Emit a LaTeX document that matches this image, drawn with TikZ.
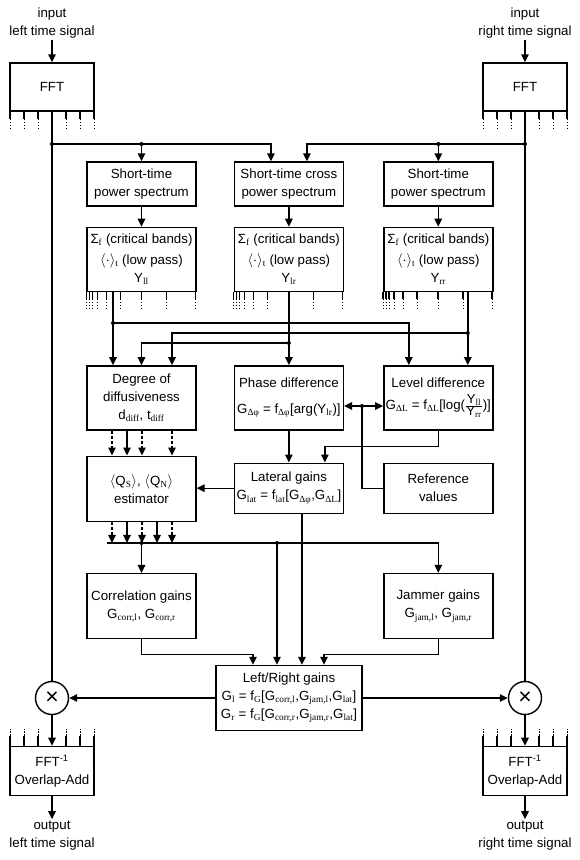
\documentclass[tikz,border=0pt]{standalone}
\usepackage{fontspec}
\setmainfont{Liberation Sans}
\newfontfamily\subfont{Liberation Serif}
\usetikzlibrary{positioning,arrows.meta}
\newcommand\sbs[1]{\textsubscript{\subfont #1}}
\newcommand\fracY[2]{$\frac{\hbox{\fontsize{13}{13}\selectfont Y\sbs{#1}}}{\hbox{\fontsize{13}{13}\selectfont Y\sbs{#2}}}$}
\begin{document}
\begin{tikzpicture}[x=1pt, y=-1pt, line width=1.4pt, font=\fontsize{13.3}{18}\selectfont,
  box/.style={draw, minimum width=109pt, align=center, inner sep=0pt},
  fftbox/.style={draw, minimum width=84pt, minimum height=48pt, align=center, inner sep=0pt},
  label/.style={align=center, inner sep=1pt},
  arr/.style={-{Triangle[length=8pt,width=7.5pt]}},
  stub/.style={dash pattern=on 1.3pt off 1.7pt, line width=1pt},
  chan/.style={dash pattern=on 3pt off 2pt, line width=1.2pt}]
\useasboundingbox (0,0) rectangle (580,860);

% analysis
\node[fftbox] (fftL) at (52,87) {FFT};
\node[fftbox] (fftR) at (525,87) {FFT};
\node[label] (inL) [above=22pt of fftL] {input\\left time signal};
\node[label] (inR) [above=22pt of fftR] {input\\right time signal};

\node[box, minimum height=44pt] (psL) at (141.5,184) {Short-time\\power spectrum};
\node[box, minimum height=44pt] (cps) [right=37pt of psL] {Short-time cross\\power spectrum};
\node[box, minimum height=44pt] (psR) [right=39pt of cps] {Short-time\\power spectrum};

\node[box, minimum height=64pt] (sumL) [below=20pt of psL] {Σ\sbs{f} (critical bands)\\[3pt]$\langle\cdot\rangle$\sbs{t} (low pass)\\Y\sbs{ll}};
\node[box, minimum height=64pt] (sumC) [below=20pt of cps] {Σ\sbs{f} (critical bands)\\[3pt]$\langle\cdot\rangle$\sbs{t} (low pass)\\Y\sbs{lr}};
\node[box, minimum height=64pt] (sumR) [below=20pt of psR] {Σ\sbs{f} (critical bands)\\[3pt]$\langle\cdot\rangle$\sbs{t} (low pass)\\Y\sbs{rr}};

% binaural parameters
\node[box, minimum height=64pt] (diff) [below=73pt of sumL] {Degree of\\diffusiveness\\d\sbs{diff}, t\sbs{diff}};
\node[box, minimum height=64pt] (phase) [below=73pt of sumC] {Phase difference\\[8pt]G\sbs{Δφ} = f\sbs{Δφ}[arg(Y\sbs{lr})]};
\node[box, minimum height=64pt] (level) [below=73pt of sumR] {Level difference\\[4pt]G\sbs{ΔL} = f\sbs{ΔL}[log(\fracY{ll}{rr})]};

\node[box, minimum height=65pt] (est) [below=25pt of diff] {$\langle$Q\sbs{S}$\rangle$, $\langle$Q\sbs{N}$\rangle$\\estimator};
\node[box, minimum height=50pt] (lat) [below=32pt of phase] {Lateral gains\\G\sbs{lat} = f\sbs{lat}[G\sbs{Δφ},G\sbs{ΔL}]};
\node[box, minimum height=50pt] (ref) [below=32pt of level] {Reference\\values};

\node[box, minimum height=65pt] (corr) [below=51pt of est] {Correlation gains\\G\sbs{corr,l}, G\sbs{corr,r}};
\node[box, minimum height=65pt] (jam) [below=59pt of ref] {Jammer gains\\G\sbs{jam,l}, G\sbs{jam,r}};

\node[box, minimum width=146pt, minimum height=65pt] (lr) at (289,698) {Left/Right gains\\G\sbs{l} = f\sbs{G}[G\sbs{corr,l},G\sbs{jam,l},G\sbs{lat}]\\G\sbs{r} = f\sbs{G}[G\sbs{corr,r},G\sbs{jam,r},G\sbs{lat}]};

% synthesis
\node[draw, circle, minimum size=33pt, inner sep=0pt, font=\fontsize{23}{23}\selectfont] (mulL) at (fftL |- lr) {×};
\node[draw, circle, minimum size=33pt, inner sep=0pt, font=\fontsize{23}{23}\selectfont] (mulR) at (fftR |- lr) {×};
\node[fftbox, minimum height=49pt] (ifftL) [below=30.5pt of mulL] {FFT\textsuperscript{-1}\\Overlap-Add};
\node[fftbox, minimum height=49pt] (ifftR) [below=30.5pt of mulR] {FFT\textsuperscript{-1}\\Overlap-Add};
\node[label] (outL) [below=23pt of ifftL] {output\\left time signal};
\node[label] (outR) [below=23pt of ifftR] {output\\right time signal};

% frequency channels
\foreach \f in {fftL,fftR}{
  \foreach \dx in {-42,-28,-14,14,28,42}{
    \draw ([xshift=\dx pt]\f.south) -- ++(0,7);
    \draw[stub] ([xshift=\dx pt, yshift=-7pt]\f.south) -- ++(0,10);
  }
}
\foreach \f in {ifftL,ifftR}{
  \foreach \dx in {-42,-28,-14,14,28,42}{
    \draw ([xshift=\dx pt]\f.north) -- ++(0,-10);
    \draw[stub] ([xshift=\dx pt, yshift=10pt]\f.north) -- ++(0,-7);
  }
}
\foreach \s in {sumL,sumC,sumR}{
  \foreach \dx in {0,3,6,11,20,34,55,80,109}{
    \draw ([xshift=\dx pt]\s.south west) -- ++(0,7);
    \draw[stub] ([xshift=\dx pt, yshift=-7pt]\s.south west) -- ++(0,11);
  }
}

% signal paths
\draw[arr] (inL) -- (fftL);
\draw[arr] (inR) -- (fftR);
\draw (fftL) -- (mulL);
\draw (fftR) -- (mulR);
\coordinate (topL) at (52,144);
\coordinate (topR) at (525,144);
\fill (topL) circle (2pt) (topR) circle (2pt);
\fill (topL -| psL.north) circle (2pt) (topR -| psR.north) circle (2pt);
\draw[arr] (topL) -| ([xshift=-18pt]cps.north);
\draw[arr] (topR) -| ([xshift=18pt]cps.north);
\draw[arr] (topL -| psL.north) -- (psL.north);
\draw[arr] (topR -| psR.north) -- (psR.north);
\draw[arr] (psL) -- (sumL);
\draw[arr] (cps) -- (sumC);
\draw[arr] (psR) -- (sumR);

\coordinate (llout) at ([xshift=-28.5pt]sumL.south);
\coordinate (rrout) at ([xshift=29.5pt]sumR.south);
\coordinate (lldot) at (llout |- 0,323);
\coordinate (rrdot) at (rrout |- 0,333);
\coordinate (lrdot) at (sumC.south |- 0,343);
\draw[arr] (llout) -- (llout |- diff.north);
\draw[arr] (rrout) -- (rrout |- level.north);
\draw[arr] (sumC) -- (phase);
\fill (lldot) circle (2pt) (rrdot) circle (2pt) (lrdot) circle (2pt);
\draw[arr] (lldot) -| ([xshift=-29.5pt]level.north);
\draw[arr] (rrdot) -| ([xshift=30.5pt]diff.north);
\draw[arr] (lrdot) -| (diff.north);

\foreach \dx/\sty in {-29.5/chan,-14.5/solid,0.5/chan,30.5/chan}
  \draw[arr,\sty] ([xshift=\dx pt]diff.south) -- ([xshift=\dx pt]est.north);
\foreach \dx/\sty in {-29.5/chan,-14.5/solid,0.5/chan,15.5/solid,30.5/chan}
  \draw[arr,\sty] ([xshift=\dx pt]est.south) -- ++(0,21);

\draw[arr] (phase) -- (lat);
\draw[arr] (level.south) -- ++(0,16) -| ([xshift=36pt]lat.north);
\draw[arr] (lat.west) -- (lat.west -| est.east);
\coordinate (refdot) at (362,406);
\draw (ref.west) -| (refdot);
\fill (refdot) circle (2pt);
\draw[arr] (refdot) -- (refdot -| phase.east);
\draw[arr] (refdot) -- (refdot -| level.west);

\coordinate (busW) at (107,543);
\coordinate (corrdot) at (corr.north |- busW);
\coordinate (gdot) at (277,543);
\coordinate (latout) at ([xshift=13pt]lat.south);
\draw[arr] (busW) -| (jam.north);
\fill (corrdot) circle (2pt) (gdot) circle (2pt);
\draw[arr] (corrdot) -- (corr.north);
\draw[arr] (gdot) -- (gdot |- lr.north);
\draw[arr] (latout) -- (latout |- lr.north);
\draw[arr] (corr.south) -- ++(0,15) -| ([xshift=-36pt]lr.north);
\draw[arr] (jam.south) -- ++(0,15) -| ([xshift=35pt]lr.north);

\draw[arr] (lr.west) -- (mulL);
\draw[arr] (lr.east) -- (mulR);
\draw[arr] (mulL) -- (ifftL);
\draw[arr] (mulR) -- (ifftR);
\draw[arr] (ifftL) -- (outL);
\draw[arr] (ifftR) -- (outR);
\end{tikzpicture}
\end{document}
